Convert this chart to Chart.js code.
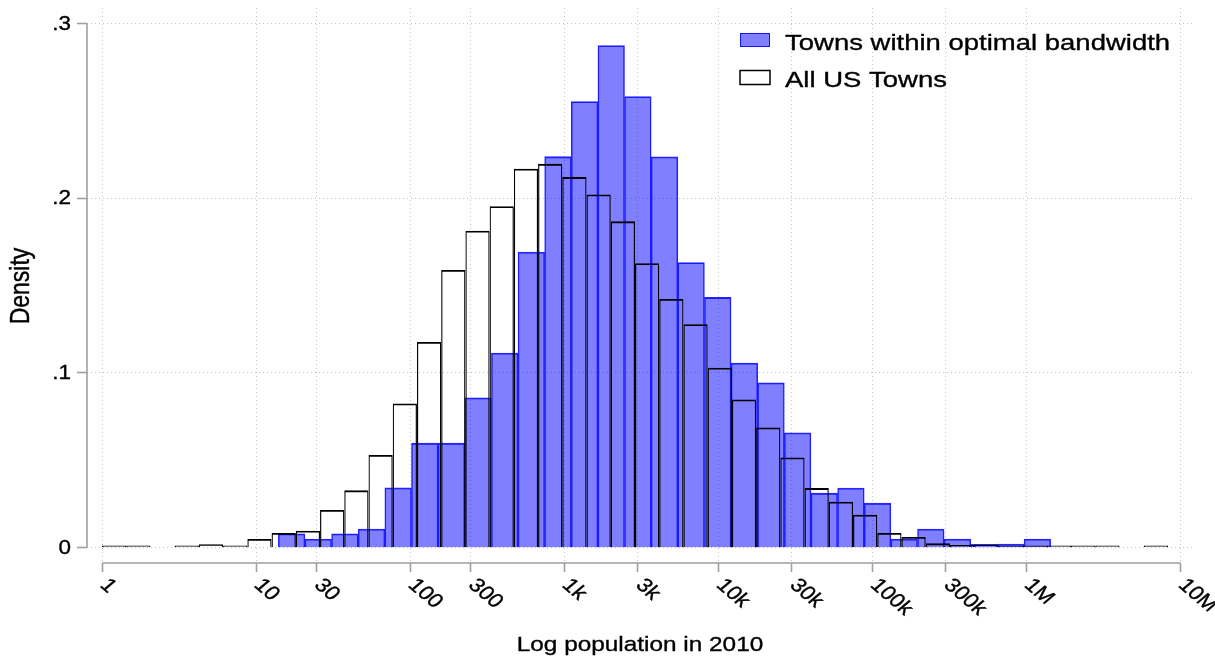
<!DOCTYPE html>
<html>
<head>
<meta charset="utf-8">
<script src="https://cdn.jsdelivr.net/npm/chart.js@4.4.1/dist/chart.umd.min.js"></script>
<style>
  html, body { margin: 0; padding: 0; background: #ffffff; }
  #wrap { position: relative; width: 1215px; height: 657px; }
</style>
</head>
<body>
<div id="wrap"><canvas id="chart"></canvas></div>
<script>
// Histogram bins are on the natural-log population scale.
// All US towns: 44 equal bins from ln(1) up to the largest town.
const allTownsStart = 0;
const allTownsBinWidth = 0.36174;
const allTownsDensity = [
  0.0012, 0.0012, 0, 0.0012, 0.0020, 0.0012, 0.0050, 0.0084, 0.0097, 0.0216,
  0.0328, 0.0530, 0.0825, 0.1177, 0.1589, 0.1813, 0.1954, 0.2168, 0.2196, 0.2120,
  0.2021, 0.1867, 0.1627, 0.1423, 0.1278, 0.1030, 0.0848, 0.0688, 0.0516, 0.0341,
  0.0263, 0.0189, 0.0084, 0.0061, 0.0025, 0.0015, 0.0017, 0.0012, 0.0012, 0.0012,
  0.0012, 0.0012, 0, 0.0012
];

// Towns within the optimal bandwidth: 29 equal bins.
const bandwidthStart = 2.6325;
const bandwidthBinWidth = 0.39767;
const bandwidthDensity = [
  0.0080, 0.0050, 0.0080, 0.0107, 0.0343, 0.0598, 0.0598, 0.0858, 0.1114, 0.1691,
  0.2237, 0.2553, 0.2873, 0.2581, 0.2236, 0.1632, 0.1432, 0.1057, 0.0943, 0.0657,
  0.0312, 0.0341, 0.0255, 0.0050, 0.0107, 0.0050, 0.0019, 0.0021, 0.0050
];

// Axis ticks (positions in ln population) and their labels
const xTickValues = [0, 2.3, 3.2, 4.6, 5.5, 6.9, 8, 9.2, 10.3, 11.5, 12.6, 13.8, 16.1];
const xTickLabels = ['1', '10', '30', '100', '300', '1k', '3k', '10k', '30k', '100k', '300k', '1M', '10M'];
const yTickValues = [0, 0.1, 0.2, 0.3];
const yTickLabels = ['0', '.1', '.2', '.3'];

const seriesNames = ['Towns within optimal bandwidth', 'All US Towns'];
const xTitle = 'Log population in 2010';
const yTitle = 'Density';

const FONT = '"Liberation Sans", Arial, Helvetica, sans-serif';
const AXIS_GRAY = '#a0a0a0';
const BLUE_FILL = 'rgba(0, 0, 255, 0.5)';
const BLUE_EDGE = 'rgba(0, 0, 255, 0.85)';

function binPoints(start, width, values) {
  return values.map((d, i) => ({ x: start + (i + 0.5) * width, y: d }));
}

// text with a slightly widened, slightly heavier face, optionally rotated
function drawText(ctx, text, x, y, size, angle, align, baseline, stretch) {
  ctx.save();
  ctx.translate(x, y);
  ctx.scale(stretch, 1);
  ctx.rotate(angle);
  ctx.font = size + 'px ' + FONT;
  ctx.textAlign = align;
  ctx.textBaseline = baseline;
  ctx.fillStyle = '#000000';
  ctx.strokeStyle = '#000000';
  ctx.lineWidth = 0.35;
  ctx.fillText(text, 0, 0);
  ctx.strokeText(text, 0, 0);
  ctx.restore();
}

// Axis lines, tick labels, axis titles and the in-plot legend
const decorations = {
  id: 'decorations',
  afterDraw(chart) {
    const ctx = chart.ctx;
    const xs = chart.scales.x;
    const ys = chart.scales.y;
    const area = chart.chartArea;

    ctx.save();
    ctx.strokeStyle = AXIS_GRAY;
    ctx.lineWidth = 1.6;
    ctx.beginPath();
    ctx.moveTo(xs.getPixelForValue(xTickValues[0]), area.bottom);
    ctx.lineTo(xs.getPixelForValue(xTickValues[xTickValues.length - 1]), area.bottom);
    ctx.moveTo(area.left, ys.getPixelForValue(yTickValues[0]));
    ctx.lineTo(area.left, ys.getPixelForValue(yTickValues[yTickValues.length - 1]));
    ctx.stroke();
    ctx.restore();

    xTickValues.forEach((v, i) => {
      const px = xs.getPixelForValue(v);
      drawText(ctx, xTickLabels[i], px - 3, area.bottom + 23, 19.5, Math.PI / 4, 'left', 'alphabetic', 1.18);
    });
    yTickValues.forEach((v, i) => {
      const py = ys.getPixelForValue(v);
      drawText(ctx, yTickLabels[i], area.left - 16, py + 1, 19.5, 0, 'right', 'middle', 1.15);
    });

    drawText(ctx, xTitle, 640, 651, 21, 0, 'center', 'alphabetic', 1.16);
    drawText(ctx, yTitle, 22, 286, 23, -Math.PI / 2, 'center', 'middle', 1.18);

    // legend
    ctx.save();
    ctx.fillStyle = BLUE_FILL;
    ctx.fillRect(740, 33, 30, 14);
    ctx.strokeStyle = BLUE_EDGE;
    ctx.lineWidth = 1;
    ctx.strokeRect(740.5, 33.5, 29, 13);
    ctx.fillStyle = '#ffffff';
    ctx.fillRect(740, 70, 30, 14);
    ctx.strokeStyle = '#000000';
    ctx.lineWidth = 1.5;
    ctx.strokeRect(740, 70.5, 30, 14);
    ctx.restore();
    drawText(ctx, seriesNames[0], 785, 49.5, 22.5, 0, 'left', 'alphabetic', 1.222);
    drawText(ctx, seriesNames[1], 785, 86.5, 22.5, 0, 'left', 'alphabetic', 1.222);
  }
};

const xMin = -0.224, xMax = 16.32;

new Chart(document.getElementById('chart'), {
  type: 'bar',
  data: {
    datasets: [
      {
        label: seriesNames[1],
        data: binPoints(allTownsStart, allTownsBinWidth, allTownsDensity),
        xAxisID: 'x',
        backgroundColor: 'rgba(0,0,0,0)',
        borderColor: '#000000',
        borderWidth: { top: 1.8, left: 1.2, right: 1.2, bottom: 0 },
        barPercentage: 1,
        categoryPercentage: 1,
        grouped: false,
        inflateAmount: 0
      },
      {
        label: seriesNames[0],
        data: binPoints(bandwidthStart, bandwidthBinWidth, bandwidthDensity),
        xAxisID: 'x2',
        backgroundColor: BLUE_FILL,
        borderColor: BLUE_EDGE,
        borderWidth: { top: 1.2, left: 0.9, right: 0.9, bottom: 0 },
        barPercentage: 1,
        categoryPercentage: 1,
        grouped: false,
        inflateAmount: 0.3
      }
    ]
  },
  options: {
    responsive: true,
    maintainAspectRatio: false,
    animation: false,
    events: [],
    layout: { padding: { top: 8, right: 20, left: 0, bottom: 0 } },
    plugins: { legend: { display: false }, tooltip: { enabled: false } },
    scales: {
      x: {
        type: 'linear',
        position: 'bottom',
        offset: false,
        min: xMin,
        max: xMax,
        afterBuildTicks: s => { s.ticks = xTickValues.map(v => ({ value: v })); },
        afterFit: s => { s.height = 94; s.paddingLeft = 0; s.paddingRight = 0; },
        ticks: { display: false },
        grid: {
          offset: false,
          color: '#c4c4c4',
          lineWidth: 1,
          drawTicks: true,
          tickLength: 9,
          tickColor: AXIS_GRAY,
          tickWidth: 1.6,
          tickBorderDash: []
        },
        border: { display: false, dash: [1, 3] }
      },
      x2: {
        type: 'linear',
        position: 'bottom',
        display: false,
        offset: false,
        grid: { offset: false },
        min: xMin,
        max: xMax
      },
      y: {
        type: 'linear',
        min: -0.00875,
        max: 0.30875,
        afterBuildTicks: s => { s.ticks = yTickValues.map(v => ({ value: v })); },
        afterFit: s => { s.width = 87; s.paddingTop = 0; s.paddingBottom = 0; },
        ticks: { display: false },
        grid: {
          color: '#c4c4c4',
          lineWidth: 1,
          drawTicks: true,
          tickLength: 10,
          tickColor: AXIS_GRAY,
          tickWidth: 1.6,
          tickBorderDash: []
        },
        border: { display: false, dash: [1, 3] }
      }
    }
  },
  plugins: [decorations]
});
</script>
</body>
</html>
